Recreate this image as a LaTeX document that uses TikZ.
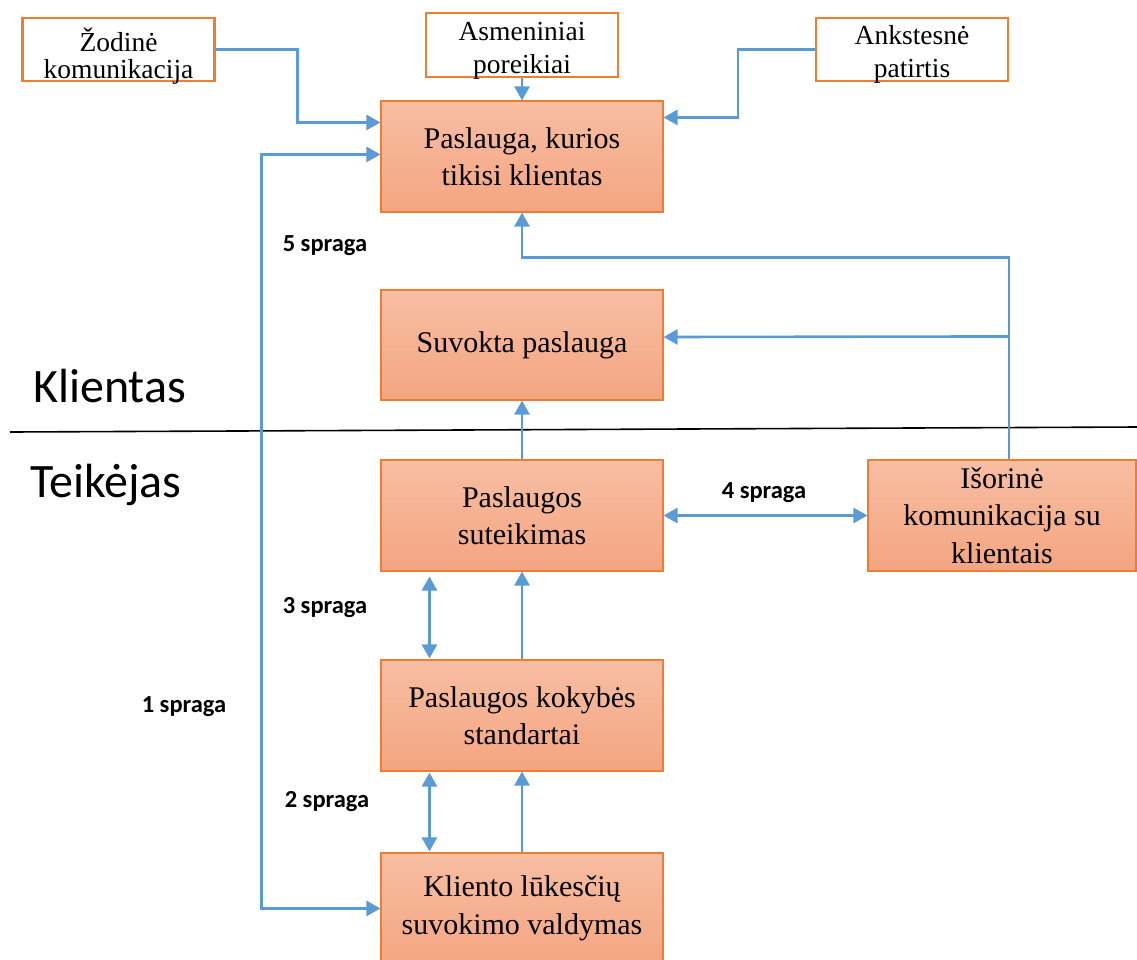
\documentclass[tikz,border=0pt]{standalone}
\usepackage{fontspec}
\setmainfont{Liberation Serif}
\newfontfamily\carl{Carlito}
\usetikzlibrary{arrows.meta,calc}
\definecolor{edgeorange}{HTML}{ED7D31}
\definecolor{linkblue}{HTML}{5B9BD5}
\definecolor{filltop}{HTML}{F7BEA3}
\definecolor{fillbottom}{HTML}{F4A581}
\tikzset{
  srcbox/.style={draw=edgeorange,line width=2.2pt,fill=white,inner sep=0pt,
    minimum width=192pt,minimum height=63pt},
  srctext/.style={inner sep=0pt,align=center,font=\fontsize{27.5}{33}\selectfont},
  mainbox/.style={draw=edgeorange,line width=1.1pt,top color=filltop,bottom color=fillbottom,
    inner sep=0pt,minimum width=282pt,minimum height=111pt,align=center,
    font=\fontsize{30}{37.5}\selectfont},
  link/.style={draw=linkblue,line width=2.6pt,-{Triangle[length=14pt,width=15pt]}},
  duallink/.style={draw=linkblue,line width=2.6pt,{Triangle[length=14pt,width=15pt]}-{Triangle[length=14pt,width=15pt]}},
  gaplabel/.style={font=\carl\bfseries\fontsize{24.5}{27}\selectfont,inner sep=0pt},
  sidelabel/.style={font=\carl\fontsize{48}{52}\selectfont,inner sep=0pt,anchor=base west}
}
\begin{document}
\begin{tikzpicture}[x=1pt,y=-1pt]
\useasboundingbox (0,0) rectangle (1137,959);

% influences on the expected service (frames, then their captions set a little low)
\node[srcbox] (zod) at (118.5,49.5) {};
\node[srcbox,minimum height=64pt] (asm) at (522,45) {};
\node[srcbox] (ank) at (912,49.5) {};
\node[srctext,font=\fontsize{27.5}{27}\selectfont] (zodtxt) at ($(zod.center)+(0,7)$) {Žodinė\\komunikacija};
\node[srctext] (asmtxt) at ($(asm.center)+(0,6)$) {Asmeniniai\\poreikiai};
\node[srctext] (anktxt) at ($(ank.center)+(0,5)$) {Ankstesnė\\patirtis};

% customer side
\node[mainbox] (pk) at (522,156.5) {Paslauga, kurios\\tikisi klientas};
\node[mainbox,minimum height=110pt] (sp) at (522,345) {Suvokta paslauga};

% provider side
\node[mainbox] (ps) at (522,515.5) {Paslaugos\\suteikimas};
\node[mainbox] (pks) at (522,715.5) {Paslaugos kokybės\\standartai};
\node[mainbox] (klv) at (522,908.5) {Kliento lūkesčių\\suvokimo valdymas};
\node[mainbox,minimum width=268pt] (iso) at (1002,515.5) {Išorinė\\komunikacija su\\klientais};

% divider between customer and provider
\draw[black,line width=1.6pt] (10,432) -- (1137,427);
\node[sidelabel] (kl) at (33,402) {Klientas};
\node[sidelabel] (tk) at (30,497) {Teikėjas};

% connectors
\draw[link] (zod.east) -- ($(zod.east)+(82,0)$) |- ($(pk.north west)+(0,22)$);
\draw[link] (asm.south) -- (pk.north);
\draw[link] (ank.west) -- ($(ank.west)+(-77,0)$) |- ($(pk.north east)+(0,17)$);
\draw[duallink] ($(pk.north west)+(0,54)$) -- ++(-119,0) |- ($(klv.north west)+(0,56)$);
\draw[link] ($(iso.north)+(7,0)$) -- ++(0,-202) -| (pk.south);
\draw[link] ($(iso.north)+(7,-123)$) -- ($(sp.east)+(0,-8)$);
\draw[link] (ps.north) -- (sp.south);
\draw[duallink] (ps.east) -- (iso.west);
\draw[duallink] ($(ps.south west)+(49,5)$) -- ($(pks.north west)+(49,-1)$);
\draw[link] (pks.north) -- (ps.south);
\draw[duallink] ($(pks.south west)+(49,1)$) -- ($(klv.north west)+(49,-1)$);
\draw[link] (klv.north) -- (pks.south);

% gap labels
\node[gaplabel] (g5) at (325,246) {5 spraga};
\node[gaplabel] (g4) at (764,493) {4 spraga};
\node[gaplabel] (g3) at (325,608) {3 spraga};
\node[gaplabel] (g1) at (184,707) {1 spraga};
\node[gaplabel] (g2) at (327,802) {2 spraga};
\end{tikzpicture}
\end{document}
